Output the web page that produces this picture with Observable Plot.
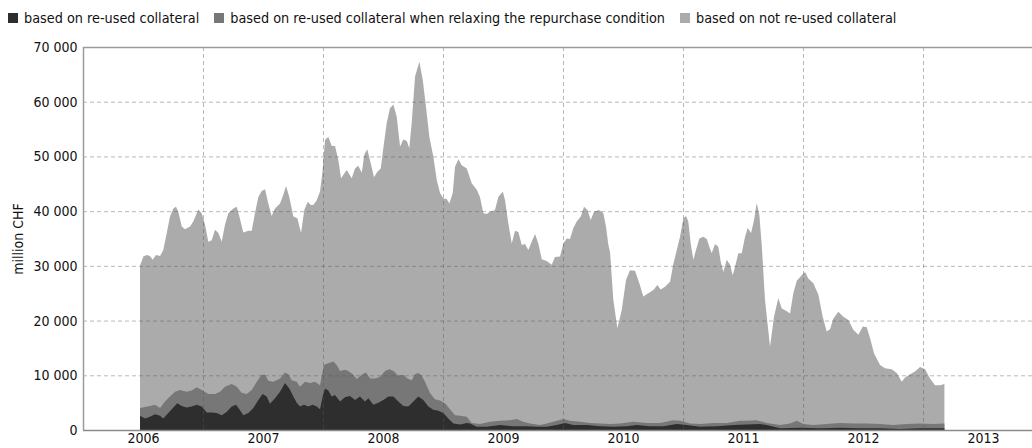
<!DOCTYPE html>
<html>
<head>
<meta charset="utf-8">
<script src="https://cdn.jsdelivr.net/npm/d3@7"></script>
<script src="https://cdn.jsdelivr.net/npm/@observablehq/plot@0.6"></script>
<style>
  html, body { margin: 0; padding: 0; background: #fff; }
  #legend { height: 32px; box-sizing: border-box; padding: 3px 0 0 8px; display: flex; align-items: center;
            font-family: "DejaVu Sans Condensed", "DejaVu Sans", sans-serif; font-size: 14.3px; color: #111; white-space: nowrap; }
  .item { display: flex; align-items: center; margin-right: 15px; }
  .sw { width: 10px; height: 10px; margin-right: 6px; display: inline-block; }
</style>
</head>
<body>
<div id="legend"></div>
<div id="chart"></div>
<script>
// Series names (legend order) and colours
const seriesNames = [
  "based on re-used collateral",
  "based on re-used collateral when relaxing the repurchase condition",
  "based on not re-used collateral"
];
const seriesColors = ["#2e2e2e", "#777777", "#ababab"];

// Y ticks (million CHF) and year labels
const yTicks = [0, 10000, 20000, 30000, 40000, 50000, 60000, 70000];
const yearLabels = [2006, 2007, 2008, 2009, 2010, 2011, 2012, 2013];

// Upper boundary of each stacked band, [decimal year, million CHF]
// 1) re-used collateral (dark)
const reusedLevel = [
  [2006.475,2600],[2006.517,2100],[2006.558,2400],[2006.600,2900],[2006.642,2600],[2006.669,2100],
  [2006.711,3100],[2006.753,4100],[2006.786,4900],[2006.822,4400],[2006.864,4100],[2006.906,4300],
  [2006.948,4600],[2006.989,4300],[2007.031,3200],[2007.072,3200],[2007.114,3100],[2007.156,2700],
  [2007.197,3300],[2007.239,4300],[2007.275,4600],[2007.303,3800],[2007.336,2700],[2007.378,3100],
  [2007.419,4000],[2007.461,5500],[2007.497,6600],[2007.531,6100],[2007.558,4800],[2007.600,5800],
  [2007.642,7000],[2007.683,8600],[2007.719,7600],[2007.753,6100],[2007.781,5000],[2007.808,4300],
  [2007.842,4600],[2007.878,4300],[2007.914,4600],[2007.948,4300],[2007.975,3800],[2007.997,6100],
  [2008.017,7600],[2008.044,7200],[2008.072,6100],[2008.100,6400],[2008.142,5200],[2008.183,6000],
  [2008.225,6200],[2008.267,5500],[2008.308,6100],[2008.350,5200],[2008.378,5800],[2008.419,4600],
  [2008.461,5000],[2008.503,5500],[2008.544,6100],[2008.586,6100],[2008.628,5200],[2008.669,4400],
  [2008.711,4300],[2008.753,5200],[2008.794,6100],[2008.836,5500],[2008.878,4300],[2008.919,3700],
  [2008.961,3500],[2009.003,3100],[2009.044,2100],[2009.086,1200],[2009.142,1000],[2009.198,1300],
  [2009.225,1200],[2009.281,600],[2009.364,600],[2009.475,900],[2009.586,700],[2009.697,700],
  [2009.781,600],[2009.864,600],[2009.947,900],[2010.017,1300],[2010.086,900],[2010.197,900],
  [2010.308,700],[2010.419,600],[2010.531,700],[2010.614,900],[2010.725,700],[2010.836,700],
  [2010.947,1100],[2011.031,900],[2011.142,600],[2011.281,700],[2011.419,900],[2011.531,1000],
  [2011.642,1100],[2011.697,900],[2011.808,300],[2011.975,400],[2012.142,300],[2012.308,400],
  [2012.475,300],[2012.642,300],[2012.808,200],[2012.975,300],[2013.178,300]
];
// 2) re-used + additional re-used when relaxing the repurchase condition (medium)
const relaxedLevel = [
  [2006.475,4000],[2006.558,4400],[2006.600,4600],[2006.642,4000],[2006.683,5200],[2006.725,6100],
  [2006.767,7000],[2006.808,7300],[2006.864,7000],[2006.906,7200],[2006.948,7800],[2006.989,7300],
  [2007.044,6600],[2007.100,6600],[2007.142,7000],[2007.183,7900],[2007.239,8400],[2007.281,7900],
  [2007.322,6800],[2007.364,6600],[2007.406,7300],[2007.448,8800],[2007.489,10100],[2007.517,10100],
  [2007.544,9000],[2007.586,8800],[2007.642,9400],[2007.683,10500],[2007.711,10200],[2007.739,9100],
  [2007.781,8800],[2007.808,7900],[2007.850,8800],[2007.892,8600],[2007.933,8800],[2007.975,8200],
  [2007.992,10100],[2008.008,11900],[2008.044,12200],[2008.086,12500],[2008.114,11900],[2008.142,10800],
  [2008.183,11000],[2008.211,10800],[2008.253,10100],[2008.281,9300],[2008.322,10100],[2008.358,10500],
  [2008.392,9400],[2008.433,9400],[2008.475,9700],[2008.517,10800],[2008.553,11100],[2008.586,10800],
  [2008.628,9900],[2008.669,10100],[2008.703,9400],[2008.739,9100],[2008.767,10200],[2008.794,10400],
  [2008.822,9900],[2008.850,8800],[2008.892,6700],[2008.933,5600],[2008.975,5400],[2009.017,4900],
  [2009.058,3800],[2009.100,2700],[2009.142,2600],[2009.198,2400],[2009.239,1300],[2009.308,1100],
  [2009.392,1500],[2009.475,1700],[2009.558,1800],[2009.614,2000],[2009.669,1500],[2009.725,1200],
  [2009.808,900],[2009.864,1200],[2009.919,1500],[2010.003,2000],[2010.058,1700],[2010.142,1500],
  [2010.225,1300],[2010.308,1200],[2010.392,1100],[2010.475,1200],[2010.586,1500],[2010.697,1300],
  [2010.808,1300],[2010.919,1800],[2010.975,1700],[2011.058,1200],[2011.142,1100],[2011.253,1300],
  [2011.364,1300],[2011.475,1700],[2011.531,1700],[2011.614,1800],[2011.697,1300],[2011.808,900],
  [2011.892,1200],[2011.948,1700],[2012.003,1100],[2012.086,900],[2012.197,1100],[2012.308,1300],
  [2012.419,1200],[2012.531,1200],[2012.642,1100],[2012.753,900],[2012.864,1100],[2012.975,1200],
  [2013.086,1100],[2013.178,1200]
];
// 3) total, i.e. including not re-used collateral (light)
const totalLevel = [
  [2006.475,30000],[2006.503,31700],[2006.531,32000],[2006.558,31800],[2006.581,31100],[2006.608,32000],
  [2006.642,31800],[2006.669,32900],[2006.698,36000],[2006.725,39000],[2006.753,40500],[2006.775,40800],
  [2006.794,39900],[2006.823,37200],[2006.850,36700],[2006.892,37200],[2006.919,38100],[2006.961,40300],
  [2006.989,39600],[2007.017,37500],[2007.044,34400],[2007.073,34700],[2007.100,36600],[2007.128,36000],
  [2007.156,34400],[2007.183,37500],[2007.211,39600],[2007.253,40500],[2007.281,40800],[2007.303,39000],
  [2007.336,36100],[2007.378,36400],[2007.406,36400],[2007.433,39600],[2007.461,42600],[2007.489,43700],
  [2007.517,44000],[2007.544,41400],[2007.572,39100],[2007.600,40500],[2007.642,41400],[2007.669,43000],
  [2007.692,44600],[2007.719,42600],[2007.753,39000],[2007.786,38700],[2007.817,36000],[2007.844,40200],
  [2007.873,41700],[2007.898,41100],[2007.919,41100],[2007.948,42000],[2007.975,43600],[2007.994,46900],
  [2008.017,53000],[2008.044,53600],[2008.073,51900],[2008.100,51900],[2008.128,49300],[2008.150,46000],
  [2008.169,46600],[2008.198,47500],[2008.239,46000],[2008.267,47800],[2008.294,48300],[2008.323,47000],
  [2008.344,50300],[2008.369,51300],[2008.398,48700],[2008.425,46200],[2008.453,47200],[2008.481,47800],
  [2008.508,52400],[2008.531,56100],[2008.558,58800],[2008.586,59500],[2008.614,57300],[2008.642,51800],
  [2008.669,53100],[2008.698,52800],[2008.719,51500],[2008.739,56100],[2008.767,64600],[2008.803,67300],
  [2008.831,64000],[2008.858,59100],[2008.886,53600],[2008.919,50000],[2008.948,45700],[2008.975,43300],
  [2009.003,42300],[2009.031,42200],[2009.053,41400],[2009.081,43300],[2009.100,48100],[2009.128,49500],
  [2009.156,48400],[2009.198,47800],[2009.239,45100],[2009.281,43900],[2009.308,42600],[2009.336,39600],
  [2009.364,39500],[2009.392,39900],[2009.433,40200],[2009.461,42600],[2009.498,43600],[2009.517,42000],
  [2009.544,37800],[2009.573,34100],[2009.600,36400],[2009.628,36200],[2009.656,33800],[2009.683,34000],
  [2009.711,32900],[2009.739,34400],[2009.767,35800],[2009.794,34100],[2009.823,31200],[2009.864,30900],
  [2009.906,30200],[2009.933,31600],[2009.975,31700],[2010.003,34100],[2010.031,35000],[2010.058,34900],
  [2010.086,36900],[2010.114,38100],[2010.148,39000],[2010.175,40800],[2010.203,40200],[2010.231,38400],
  [2010.258,39900],[2010.300,40200],[2010.336,39600],[2010.358,37200],[2010.378,33800],[2010.392,32500],
  [2010.419,23800],[2010.453,18600],[2010.489,21900],[2010.525,27400],[2010.558,29200],[2010.600,29100],
  [2010.636,26800],[2010.669,24400],[2010.711,25000],[2010.753,25600],[2010.786,26500],[2010.814,25700],
  [2010.850,26200],[2010.892,27100],[2010.919,30300],[2010.948,32900],[2010.975,35300],[2011.003,38700],
  [2011.025,39100],[2011.044,38100],[2011.064,34100],[2011.086,31100],[2011.108,32900],[2011.136,35000],
  [2011.169,35300],[2011.198,34900],[2011.219,33500],[2011.239,32300],[2011.267,34000],[2011.294,33500],
  [2011.314,30800],[2011.336,28900],[2011.364,31100],[2011.392,30200],[2011.414,28300],[2011.433,29800],
  [2011.461,32300],[2011.489,32300],[2011.517,35300],[2011.539,36900],[2011.567,36000],[2011.592,38400],
  [2011.614,41500],[2011.636,39300],[2011.656,33800],[2011.683,23800],[2011.725,15200],[2011.758,20700],
  [2011.794,24100],[2011.823,22200],[2011.858,21800],[2011.892,21300],[2011.919,25000],[2011.948,27300],
  [2011.989,28300],[2012.017,28900],[2012.044,27700],[2012.086,26800],[2012.128,24700],[2012.164,20700],
  [2012.197,18000],[2012.225,18400],[2012.253,20400],[2012.294,21600],[2012.336,20700],[2012.378,20100],
  [2012.419,18300],[2012.461,17400],[2012.498,18900],[2012.531,18800],[2012.558,16800],[2012.592,14000],
  [2012.642,11900],[2012.683,11300],[2012.739,11100],[2012.781,10400],[2012.823,8800],[2012.850,9600],
  [2012.892,10200],[2012.933,10700],[2012.975,11500],[2013.017,11100],[2013.058,9400],[2013.100,8200],
  [2013.142,8200],[2013.178,8400]
];

// Legend (HTML, above the SVG)
const legend = document.getElementById("legend");
seriesNames.forEach((name, i) => {
  const it = document.createElement("span");
  it.className = "item";
  const sw = document.createElement("span");
  sw.className = "sw";
  sw.style.background = seriesColors[i];
  it.appendChild(sw);
  it.appendChild(document.createTextNode(name));
  legend.appendChild(it);
});

const fmt = d => d3.format(",")(d).replace(/,/g, " ");
const gridStyle = {stroke: "#555", strokeOpacity: 0.42, strokeDasharray: "4,3"};
const yearEnd = yearLabels[yearLabels.length - 1] + 0.908;

const chart = Plot.plot({
  width: 1032,
  height: 416,
  marginLeft: 83,
  marginRight: 0,
  marginTop: 15,
  marginBottom: 18,
  style: {fontFamily: "'DejaVu Sans Condensed', 'DejaVu Sans', sans-serif", fontSize: "14px", color: "#111", background: "#fff"},
  x: {type: "linear", domain: [yearLabels[0], yearEnd]},
  y: {domain: [0, 70000]},
  marks: [
    Plot.areaY(totalLevel, {x: d => d[0], y: d => d[1], fill: seriesColors[2]}),
    Plot.areaY(relaxedLevel, {x: d => d[0], y: d => d[1], fill: seriesColors[1]}),
    Plot.areaY(reusedLevel, {x: d => d[0], y: d => d[1], fill: seriesColors[0]}),
    Plot.ruleY(yTicks.slice(1, -1), {...gridStyle}),
    Plot.ruleX(yearLabels.slice(1), {...gridStyle}),
    Plot.ruleY([70000], {stroke: "#9a9a9a", strokeWidth: 1.5}),
    Plot.ruleY([0], {stroke: "#8a8a8a", strokeWidth: 1.5}),
    Plot.ruleX([yearLabels[0]], {stroke: "#9a9a9a", strokeWidth: 1.5}),
    Plot.axisY({ticks: yTicks, tickSize: 0, tickPadding: 6, tickFormat: fmt,
                label: "million CHF", labelAnchor: "center", labelArrow: "none", labelOffset: 70}),
    Plot.axisX({ticks: yearLabels.map(y => y + 0.5), tickSize: 0, tickPadding: 3,
                tickFormat: d => String(Math.floor(d)), label: null})
  ]
});
document.getElementById("chart").appendChild(chart);
</script>
</body>
</html>
